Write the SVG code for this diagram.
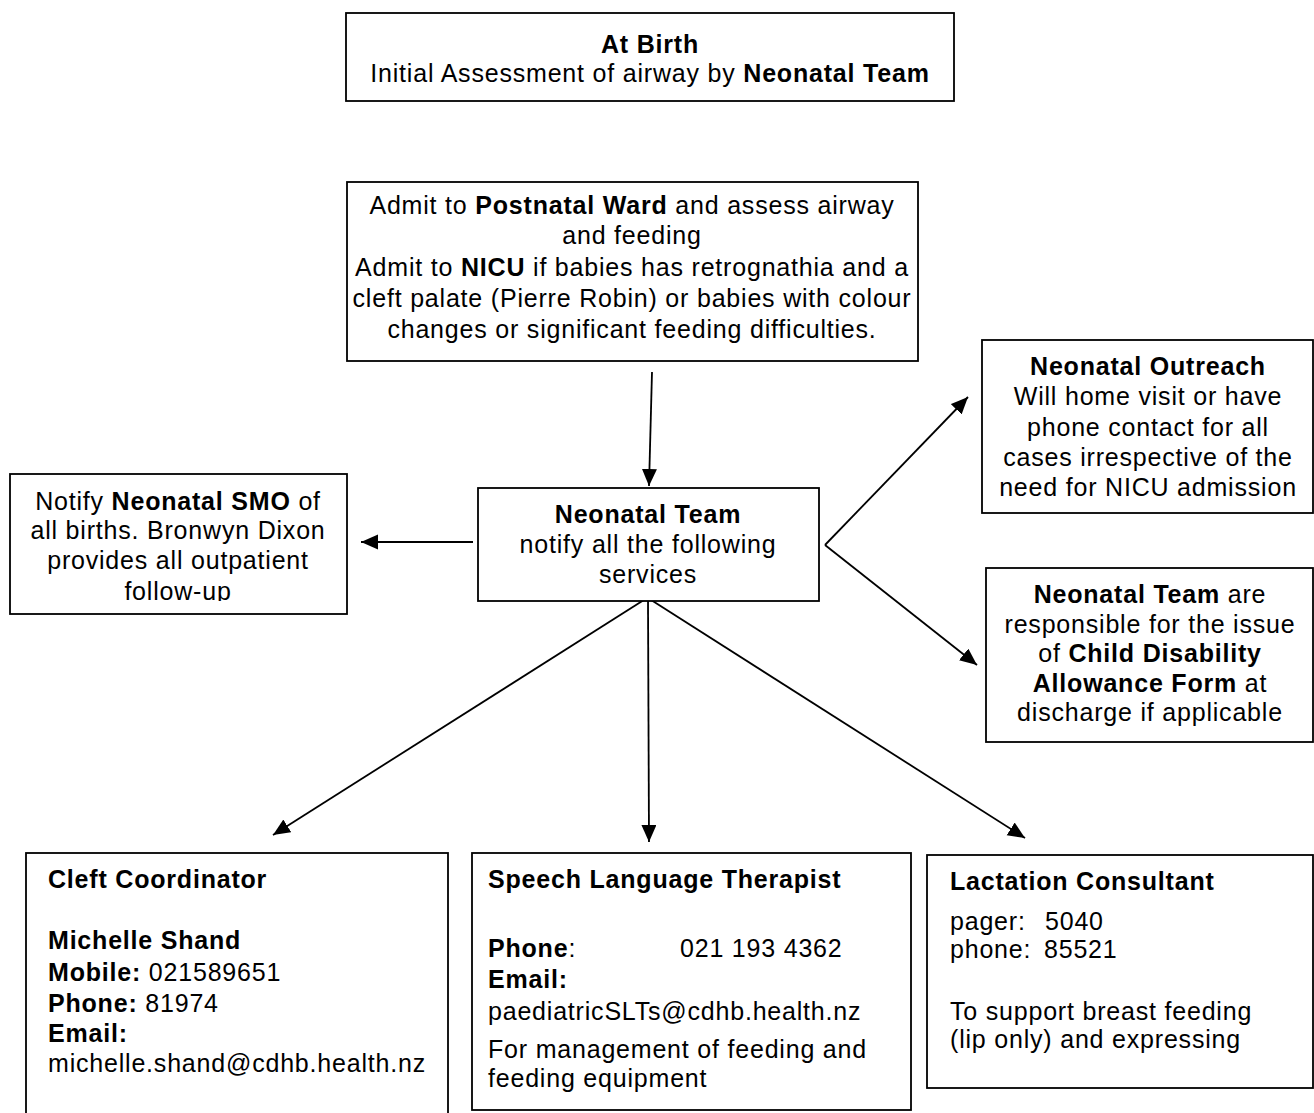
<svg xmlns="http://www.w3.org/2000/svg" width="1314" height="1113" viewBox="0 0 1314 1113">
  <style>
    text { font-family: "Liberation Sans", Arial, sans-serif; font-size: 25px; letter-spacing: 0.8px; fill: #000; }
    .b { font-weight: bold; }
    .c { text-anchor: middle; }
    .box { fill: #fff; stroke: #000; stroke-width: 1.8; }
    .conn line { stroke: #000; stroke-width: 1.8; marker-end: url(#ah); }
  </style>
  <defs>
    <marker id="ah" markerUnits="userSpaceOnUse" markerWidth="19" markerHeight="16" refX="17" refY="7.5" orient="auto">
      <path d="M0,0 L17,7.5 L0,15 z" fill="#000"/>
    </marker>
    <clipPath id="smoClip">
      <rect x="10" y="474" width="337" height="127"/>
    </clipPath>
  </defs>
  <rect width="1314" height="1113" fill="#fff"/>

  <!-- connectors -->
  <g id="connectors" class="conn">
    <line x1="652" y1="372" x2="649" y2="486"/>
    <line x1="473" y1="542" x2="361" y2="542"/>
    <line x1="825" y1="545" x2="968" y2="397"/>
    <line x1="825" y1="545" x2="977" y2="665"/>
    <line x1="647" y1="598" x2="273" y2="835"/>
    <line x1="648" y1="600" x2="649" y2="842"/>
    <line x1="648" y1="598" x2="1025" y2="838"/>
  </g>

  <g id="at-birth">
    <rect class="box" x="346" y="13" width="608" height="88"/>
    <text class="c b" x="650" y="53">At Birth</text>
    <text class="c" x="650" y="82">Initial Assessment of airway by <tspan class="b">Neonatal Team</tspan></text>
  </g>

  <g id="admit">
    <rect class="box" x="347" y="182" width="571" height="179"/>
    <text class="c" x="632" y="214">Admit to <tspan class="b">Postnatal Ward</tspan> and assess airway</text>
    <text class="c" x="632" y="244">and feeding</text>
    <text class="c" x="632" y="276">Admit to <tspan class="b">NICU</tspan> if babies has retrognathia and a</text>
    <text class="c" x="632" y="307">cleft palate (Pierre Robin) or babies with colour</text>
    <text class="c" x="632" y="338">changes or significant feeding difficulties.</text>
  </g>

  <g id="neonatal-outreach">
    <rect class="box" x="982" y="340" width="331" height="173"/>
    <text class="c b" x="1148" y="375">Neonatal Outreach</text>
    <text class="c" x="1148" y="405">Will home visit or have</text>
    <text class="c" x="1148" y="436">phone contact for all</text>
    <text class="c" x="1148" y="466">cases irrespective of the</text>
    <text class="c" x="1148" y="496">need for NICU admission</text>
  </g>

  <g id="neonatal-smo">
    <rect class="box" x="10" y="474" width="337" height="140"/>
    <g clip-path="url(#smoClip)">
      <text class="c" x="178" y="510">Notify <tspan class="b">Neonatal SMO</tspan> of</text>
      <text class="c" x="178" y="539">all births. Bronwyn Dixon</text>
      <text class="c" x="178" y="569">provides all outpatient</text>
      <text class="c" x="178" y="600">follow-up</text>
    </g>
  </g>

  <g id="neonatal-team">
    <rect class="box" x="478" y="488" width="341" height="113"/>
    <text class="c b" x="648" y="523">Neonatal Team</text>
    <text class="c" x="648" y="553">notify all the following</text>
    <text class="c" x="648" y="583">services</text>
  </g>

  <g id="disability-form">
    <rect class="box" x="986" y="568" width="327" height="174"/>
    <text class="c" x="1150" y="603"><tspan class="b">Neonatal Team</tspan> are</text>
    <text class="c" x="1150" y="633">responsible for the issue</text>
    <text class="c" x="1150" y="662">of <tspan class="b">Child Disability</tspan></text>
    <text class="c" x="1150" y="692"><tspan class="b">Allowance Form</tspan> at</text>
    <text class="c" x="1150" y="721">discharge if applicable</text>
  </g>

  <g id="cleft-coordinator">
    <rect class="box" x="26" y="853" width="422" height="280"/>
    <text class="b" x="48" y="888">Cleft Coordinator</text>
    <text class="b" x="48" y="949">Michelle Shand</text>
    <text x="48" y="981"><tspan class="b">Mobile:</tspan> 021589651</text>
    <text x="48" y="1012"><tspan class="b">Phone:</tspan> 81974</text>
    <text class="b" x="48" y="1042">Email:</text>
    <text x="48" y="1072">michelle.shand@cdhb.health.nz</text>
  </g>

  <g id="speech-language-therapist">
    <rect class="box" x="472" y="853" width="439" height="257"/>
    <text class="b" x="488" y="888">Speech Language Therapist</text>
    <text x="488" y="957"><tspan class="b">Phone</tspan>:</text>
    <text x="680" y="957">021 193 4362</text>
    <text class="b" x="488" y="988">Email:</text>
    <text x="488" y="1020">paediatricSLTs@cdhb.health.nz</text>
    <text x="488" y="1058">For management of feeding and</text>
    <text x="488" y="1087">feeding equipment</text>
  </g>

  <g id="lactation-consultant">
    <rect class="box" x="927" y="855" width="386" height="233"/>
    <text class="b" x="950" y="890">Lactation Consultant</text>
    <text x="950" y="930">pager:</text>
    <text x="1045" y="930">5040</text>
    <text x="950" y="958">phone:</text>
    <text x="1044" y="958">85521</text>
    <text x="950" y="1020">To support breast feeding</text>
    <text x="950" y="1048">(lip only) and expressing</text>
  </g>
</svg>
